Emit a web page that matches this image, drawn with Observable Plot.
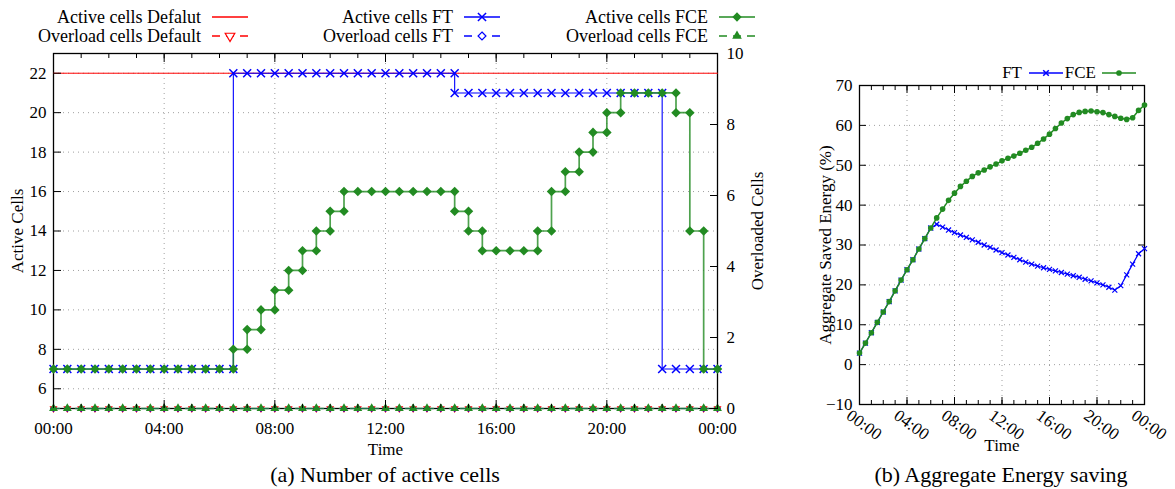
<!DOCTYPE html>
<html><head><meta charset="utf-8">
<script src="https://cdn.jsdelivr.net/npm/d3@7"></script>
<script src="https://cdn.jsdelivr.net/npm/@observablehq/plot@0.6"></script>
<style>
html,body{margin:0;padding:0;background:#fff;}
#root{position:relative;width:1175px;height:489px;overflow:hidden;font-family:"Liberation Serif","Times New Roman",serif;color:#000;}
.leg{position:absolute;font-size:18px;line-height:20px;white-space:nowrap;text-align:right;}
.cap{position:absolute;font-size:22px;line-height:24px;white-space:nowrap;text-align:center;width:400px;}
</style></head><body><div id="root"></div>
<script>
// ---------- data ----------
const times = [0,0.5,1,1.5,2,2.5,3,3.5,4,4.5,5,5.5,6,6.5,7,7.5,8,8.5,9,9.5,10,10.5,11,11.5,12,12.5,13,13.5,14,14.5,15,15.5,16,16.5,17,17.5,18,18.5,19,19.5,20,20.5,21,21.5,22,22.5,23,23.5,24];
const activeDefault = [22,22,22,22,22,22,22,22,22,22,22,22,22,22,22,22,22,22,22,22,22,22,22,22,22,22,22,22,22,22,22,22,22,22,22,22,22,22,22,22,22,22,22,22,22,22,22,22,22];
const activeFT = [7,7,7,7,7,7,7,7,7,7,7,7,7,22,22,22,22,22,22,22,22,22,22,22,22,22,22,22,22,21,21,21,21,21,21,21,21,21,21,21,21,21,21,21,7,7,7,7,7];
const activeFCE = [7,7,7,7,7,7,7,7,7,7,7,7,7,8,9,10,11,12,13,14,15,16,16,16,16,16,16,16,16,15,14,13,13,13,13,14,16,17,18,19,20,21,21,21,21,20,14,7,7];
const overloadDefault = [0,0,0,0,0,0,0,0,0,0,0,0,0,0,0,0,0,0,0,0,0,0,0,0,0,0,0,0,0,0,0,0,0,0,0,0,0,0,0,0,0,0,0,0,0,0,0,0,0];
const overloadFT = [0,0,0,0,0,0,0,0,0,0,0,0,0,0,0,0,0,0,0,0,0,0,0,0,0,0,0,0,0,0,0,0,0,0,0,0,0,0,0,0,0,0,0,0,0,0,0,0,0];
const overloadFCE = [0,0,0,0,0,0,0,0,0,0,0,0,0,0,0,0,0,0,0,0,0,0,0,0,0,0,0,0,0,0,0,0,0,0,0,0,0,0,0,0,0,0,0,0,0,0,0,0,0];
const savedFT = [2.9,5.4,8.0,10.6,13.2,15.8,18.5,21.2,23.8,26.3,29.0,31.6,34.25,35.2,34.5,33.75,33.1,32.5,31.9,31.3,30.7,30.0,29.4,28.75,28.1,27.5,26.9,26.3,25.7,25.2,24.7,24.3,23.9,23.5,23.1,22.7,22.3,21.9,21.4,21.0,20.5,20.0,19.4,18.7,19.8,22.5,25.2,27.8,29.1];
const savedFCE = [2.9,5.4,8.0,10.6,13.2,15.8,18.5,21.2,23.8,26.3,29.0,31.6,34.25,36.8,39.0,41.2,43.0,44.7,46.0,47.2,48.1,48.8,49.6,50.3,51.1,51.75,52.3,53.0,53.75,54.5,55.5,56.6,57.8,59.2,60.6,61.7,62.7,63.25,63.5,63.6,63.4,63.2,62.7,62.25,61.8,61.5,61.9,63.75,65.1];
const timeTicks = [0,4,8,12,16,20,24];
const hourTicks = [0,1,2,3,4,5,6,7,8,9,10,11,12,13,14,15,16,17,18,19,20,21,22,23,24];
const activeTicks = [6,8,10,12,14,16,18,20,22];
const overloadTicks = [0,2,4,6,8,10];
const savedTicks = [-10,0,10,20,30,40,50,60,70];
const gridSavedTicks = [0,10,20,30,40,50,60];
const gridTimeTicks = [4,8,12,16,20];

// ---------- helpers ----------
const FONT = '"Liberation Serif","Times New Roman",serif';
const green = "#228B22", blue = "#0000FF", red = "#FF0000";
const gridStyle = {stroke: "#a0a0a0", strokeOpacity: 1, strokeDasharray: "1,4", strokeWidth: 1};
const fmt = h => String(h % 24).padStart(2, "0") + ":00";
const noText = () => "";
const rows = vals => times.map((t, i) => ({t, v: vals[i]}));
const corners = vals => {
  const out = [];
  times.forEach((t, i) => {
    if (i > 0 && vals[i] !== vals[i - 1]) out.push({t, v: vals[i - 1]});
    out.push({t, v: vals[i]});
  });
  return out;
};
const yA = [5, 23], yB = [0, 10];
const ovY = v => yA[0] + (v - yB[0]) * (yA[1] - yA[0]) / (yB[1] - yB[0]);
const ovInv = d => Math.round(yB[0] + (d - yA[0]) * (yB[1] - yB[0]) / (yA[1] - yA[0]));
const rowsOv = vals => times.map((t, i) => ({t, v: ovY(vals[i])}));
const tickX = (vals, anchor, size) => Plot.axisX(vals, {anchor, tickSize: size, tickFormat: noText, label: null});
const tickY = (vals, anchor, size) => Plot.axisY(vals, {anchor, tickSize: size, tickFormat: noText, label: null});

const root = document.getElementById("root");
function put(el, left, top) { el.style.position = "absolute"; el.style.left = left + "px"; el.style.top = top + "px"; root.appendChild(el); }

// ---------- panel (a) ----------
const plotA = Plot.plot({
  width: 780, height: 415,
  marginLeft: 53, marginRight: 63, marginTop: 8, marginBottom: 52,
  style: {fontFamily: FONT, fontSize: "17px", background: "none", overflow: "visible", color: "#000"},
  x: {domain: [0, 24]},
  y: {domain: yA},
  marks: [
    Plot.gridX(gridTimeTicks, gridStyle),
    Plot.gridY(activeTicks, gridStyle),
    Plot.frame({stroke: "#000", strokeWidth: 1.3}),
    Plot.line(rows(activeDefault), {x: "t", y: "v", curve: "step-after", stroke: red, strokeWidth: 1}),
    Plot.line(rows(activeFT), {x: "t", y: "v", curve: "step-after", stroke: blue, strokeWidth: 1.1}),
    Plot.dot(corners(activeFT), {x: "t", y: "v", symbol: "times", r: 3.7, stroke: blue, strokeWidth: 1.5}),
    Plot.line(rows(activeFCE), {x: "t", y: "v", curve: "step-after", stroke: green, strokeWidth: 1.7, strokeOpacity: 0.8}),
    Plot.dot(corners(activeFCE), {x: "t", y: "v", symbol: "diamond2", r: 4.3, fill: green, stroke: "none"}),
    Plot.line(rowsOv(overloadDefault), {x: "t", y: "v", stroke: red, strokeWidth: 1, strokeDasharray: "6,5"}),
    Plot.dot(rowsOv(overloadDefault), {x: "t", y: "v", symbol: "triangle", rotate: 180, r: 2, stroke: red, fill: "white"}),
    Plot.line(rowsOv(overloadFT), {x: "t", y: "v", stroke: blue, strokeWidth: 1, strokeDasharray: "6,5"}),
    Plot.dot(rowsOv(overloadFT), {x: "t", y: "v", symbol: "diamond2", r: 2.2, stroke: blue, fill: "white"}),
    Plot.line(rowsOv(overloadFCE), {x: "t", y: "v", stroke: green, strokeWidth: 1.5, strokeOpacity: 0.8, strokeDasharray: "6,5"}),
    Plot.dot(rowsOv(overloadFCE), {x: "t", y: "v", symbol: "triangle", r: 3.3, fill: green, stroke: "none"}),
    Plot.axisX(timeTicks, {anchor: "bottom", tickSize: 0, tickPadding: 13, tickFormat: fmt, label: "Time", labelAnchor: "center", labelArrow: "none", labelOffset: 46}),
    tickX(hourTicks, "bottom", -4),
    tickX(timeTicks, "bottom", -8),
    tickX(hourTicks, "top", -4),
    tickX(timeTicks, "top", -8),
    Plot.axisY(activeTicks, {anchor: "left", tickSize: 0, tickPadding: 7, label: "Active Cells", labelAnchor: "center", labelArrow: "none", labelOffset: 43}),
    tickY(activeTicks, "left", -8),
    Plot.axisY(overloadTicks.map(ovY), {anchor: "right", tickSize: 0, tickPadding: 9, tickFormat: d => String(ovInv(d)), label: "Overloaded Cells", labelAnchor: "center", labelArrow: "none", labelOffset: 45}),
    tickY(overloadTicks.map(ovY), "right", -8)
  ]
});
put(plotA, 0, 45);

// ---------- panel (b) ----------
const plotB = Plot.plot({
  width: 385, height: 400,
  marginLeft: 69, marginRight: 31, marginTop: 25, marginBottom: 56,
  style: {fontFamily: FONT, fontSize: "17px", background: "none", overflow: "visible", color: "#000"},
  x: {domain: [0, 24]},
  y: {domain: [-10, 70]},
  marks: [
    Plot.gridX(gridTimeTicks, gridStyle),
    Plot.gridY(gridSavedTicks, gridStyle),
    Plot.frame({stroke: "#000", strokeWidth: 1.3}),
    Plot.line(rows(savedFT), {x: "t", y: "v", stroke: blue, strokeWidth: 1.2}),
    Plot.dot(rows(savedFT), {x: "t", y: "v", symbol: "times", r: 2.4, stroke: blue, strokeWidth: 1.2}),
    Plot.line(rows(savedFCE), {x: "t", y: "v", stroke: green, strokeWidth: 1.5}),
    Plot.dot(rows(savedFCE), {x: "t", y: "v", symbol: "circle", r: 2.8, fill: green, stroke: "none"}),
    Plot.axisX(timeTicks, {anchor: "bottom", tickSize: 0, tickPadding: 3, tickRotate: 36, dx: -11, dy: 6, tickFormat: fmt, label: null}),
    Plot.axisX(timeTicks, {anchor: "bottom", tickSize: 0, tickFormat: noText, label: "Time", labelAnchor: "center", labelArrow: "none", labelOffset: 46}),
    tickX(hourTicks, "bottom", -4),
    tickX(timeTicks, "bottom", -7),
    tickX(hourTicks, "top", -4),
    tickX(timeTicks, "top", -7),
    Plot.axisY(savedTicks, {anchor: "left", tickSize: 0, tickPadding: 7, label: "Aggregate Saved Energy (%)", labelAnchor: "center", labelArrow: "none", labelOffset: 41}),
    tickY(savedTicks, "left", -7),
    tickY(savedTicks, "right", -7)
  ]
});
put(plotB, 790, 60);

// ---------- legends ----------
function sample(color, dashed, sym, filled, rot, size, w) {
  w = w || 36; const h = 14;
  const svg = d3.create("svg").attr("width", w).attr("height", h);
  svg.append("line").attr("x1", 0).attr("x2", w).attr("y1", h / 2).attr("y2", h / 2)
    .attr("stroke", color).attr("stroke-width", 1.5).attr("stroke-dasharray", dashed ? "8,6" : null);
  if (sym) {
    const p = svg.append("path").attr("d", d3.symbol(sym, size)())
      .attr("transform", `translate(${w / 2},${h / 2}) rotate(${rot || 0})`);
    if (sym === d3.symbolTimes) p.attr("fill", "none").attr("stroke", color).attr("stroke-width", 1.5);
    else if (filled) p.attr("fill", color);
    else p.attr("fill", "white").attr("stroke", color).attr("stroke-width", 1.2);
  }
  return svg.node();
}
function legend(label, textRight, yc, smp, gap, fs) {
  const d = document.createElement("div");
  d.className = "leg";
  d.textContent = label;
  if (fs) d.style.fontSize = fs + "px";
  d.style.right = (1175 - textRight) + "px";
  d.style.top = (yc - 10) + "px";
  root.appendChild(d);
  put(smp, textRight + (gap || 11), yc - 7);
}
const legendA = [
  ["Active cells Defalut", 201, 17, sample(red, false, null)],
  ["Active cells FT", 453, 17, sample(blue, false, d3.symbolTimes, false, 0, 45)],
  ["Active cells FCE", 708, 17, sample(green, false, d3.symbolDiamond2, true, 0, 55)],
  ["Overload cells Default", 201, 36, sample(red, true, d3.symbolTriangle, false, 180, 40)],
  ["Overload cells FT", 453, 36, sample(blue, true, d3.symbolDiamond2, false, 0, 40)],
  ["Overload cells FCE", 708, 36, sample(green, true, d3.symbolTriangle, true, 0, 40)]
];
legendA.forEach(l => legend(...l));
legend("FT", 1022, 73, sample(blue, false, d3.symbolTimes, false, 0, 22, 34), 7, 17);
legend("FCE", 1096, 73, sample(green, false, d3.symbolCircle, true, 0, 25, 34), 6, 17);

// ---------- captions ----------
function caption(text, cx, cy) {
  const d = document.createElement("div");
  d.className = "cap";
  d.textContent = text;
  d.style.left = (cx - 200) + "px";
  d.style.top = (cy - 12) + "px";
  root.appendChild(d);
}
caption("(a) Number of active cells", 385, 475);
caption("(b) Aggregate Energy saving", 1001, 475);
</script>
</body></html>
